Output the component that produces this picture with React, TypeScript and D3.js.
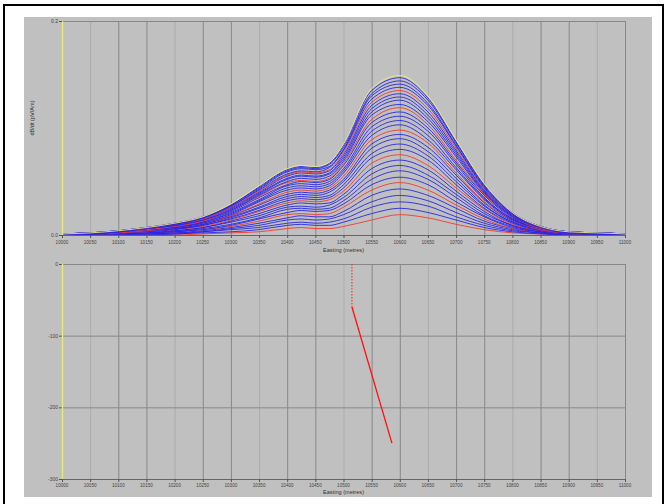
import React from "react";
import * as d3 from "d3";

// Survey stations (Easting, metres)
const stations = [10000, 10050, 10100, 10150, 10200, 10250, 10300, 10350, 10400, 10425, 10450, 10475, 10500, 10550, 10600, 10650, 10700, 10750, 10800, 10850, 10900, 10950, 11000];

// Readings per station, one value per channel (channel 0 = lowest curve), in 0.001 units
const readings = [
  [0,0,0,0,0,0,0,0,0,0,0,0,1,1,1,1,1,1,1,1,1,1,1,1,1,1,1,1,1,1,1],
  [0,0,0,0,0,0,1,1,1,1,1,1,1,1,1,1,1,1,1,1,2,2,2,2,2,2,2,2,2,2,2],
  [0,0,0,1,1,1,1,1,1,2,2,2,2,2,2,2,3,3,3,3,3,3,3,3,3,4,4,4,4,4,4],
  [0,0,1,1,1,2,2,2,2,3,3,3,4,4,4,4,5,5,5,5,5,6,6,6,6,6,6,7,7,7,7],
  [0,1,1,2,2,3,3,3,4,4,5,5,6,6,6,7,7,7,8,8,8,9,9,9,10,10,10,10,11,11,11],
  [1,2,3,3,4,5,5,6,7,7,8,9,9,10,10,11,11,12,12,13,13,14,14,15,15,15,16,16,16,17,17],
  [2,3,5,6,7,8,9,10,12,13,14,15,16,17,18,18,19,20,21,22,23,23,24,25,26,26,27,27,28,28,29],
  [3,5,7,9,11,13,15,16,18,20,22,23,25,26,28,29,31,32,33,35,36,37,38,39,40,41,42,43,44,45,46],
  [6,9,11,14,16,19,21,24,26,28,30,32,34,36,38,40,42,44,46,47,49,50,52,53,55,56,57,59,60,61,62],
  [7,10,12,15,18,20,23,25,27,30,32,34,36,38,40,42,44,46,48,50,51,53,55,56,58,59,60,62,63,64,65],
  [6,9,11,14,17,19,22,24,26,29,31,33,35,37,39,41,43,45,47,49,50,52,54,55,57,58,59,61,62,63,64],
  [6,9,12,15,17,20,23,25,28,30,33,35,37,40,42,44,46,48,50,52,53,55,57,58,60,61,63,64,66,67,68],
  [8,12,15,19,22,26,29,32,35,38,41,44,47,50,52,55,58,60,62,65,67,69,71,73,75,77,79,80,82,84,85],
  [14,20,26,31,37,42,47,52,57,62,67,72,76,81,85,89,93,97,101,105,108,112,115,118,121,124,127,130,132,135,137],
  [19,25,31,37,43,49,54,60,65,70,75,80,85,90,94,98,103,107,111,115,119,122,126,129,132,135,138,141,144,147,149],
  [16,21,27,32,37,42,47,52,56,61,65,70,74,78,82,86,89,93,97,100,103,106,109,112,115,118,121,123,126,128,130],
  [10,14,17,21,25,28,31,35,38,41,44,47,50,53,56,58,61,63,66,68,70,73,75,77,79,81,83,84,86,87,89],
  [5,7,9,11,13,15,17,18,20,22,24,25,27,28,30,31,33,34,35,37,38,39,40,41,42,43,44,45,46,47,48],
  [2,3,4,5,6,6,7,8,9,9,10,11,12,12,13,14,14,15,15,16,17,17,18,18,19,19,19,20,20,21,21],
  [1,1,2,2,2,3,3,3,3,4,4,4,5,5,5,5,6,6,6,6,6,7,7,7,7,7,7,8,8,8,8],
  [0,0,0,0,1,1,1,1,1,1,1,1,2,2,2,2,2,2,2,2,2,2,2,3,3,3,3,3,3,3,3],
  [0,0,0,0,0,0,1,1,1,1,1,1,1,1,1,1,1,1,1,1,2,2,2,2,2,2,2,2,2,2,2],
  [0,0,0,0,0,0,0,0,0,0,0,0,1,1,1,1,1,1,1,1,1,1,1,1,1,1,1,1,1,1,1],
];

const eastingTicks = [10000, 10050, 10100, 10150, 10200, 10250, 10300, 10350, 10400, 10450, 10500, 10550, 10600, 10650, 10700, 10750, 10800, 10850, 10900, 10950, 11000];
const responseTicks = [0, 0.2];
const depthTicks = [0, -100, -200, -300];

// Plate model trace (bottom section)
const plateProjection = [
  { easting: 10515, depth: 0 },
  { easting: 10515, depth: -60 },
];
const plateBody = [
  { easting: 10515, depth: -60 },
  { easting: 10586, depth: -250 },
];

const FONT = "'Liberation Sans', Arial, sans-serif";

export default function App() {
  const W = 667;
  const H = 504;
  const x = d3.scaleLinear().domain([10000, 11000]).range([62, 625]);
  const yTop = d3.scaleLinear().domain([0, 0.2]).range([235, 21]);
  const yBot = d3.scaleLinear().domain([0, -300]).range([264, 479]);

  const nChannels = readings[0].length;
  const series = d3.range(nChannels).map((k) =>
    stations.map((e, j) => ({ e, v: readings[j][k] / 1000 }))
  );
  const curve = d3
    .line<{ e: number; v: number }>()
    .x((d) => x(d.e))
    .y((d) => yTop(d.v))
    .curve(d3.curveMonotoneX);
  const plateLine = d3
    .line<{ easting: number; depth: number }>()
    .x((d) => x(d.easting))
    .y((d) => yBot(d.depth));

  const colorFor = (k: number) =>
    k === nChannels - 1 ? "#eeee70" : k % 5 === 0 ? "#f03a30" : "#2626e6";

  const gridColor = (i: number) => (i % 3 === 1 ? "#acacac" : "#888888");

  return (
    <svg
      width={W}
      height={H}
      style={{ position: "absolute", left: 0, top: 0, background: "#ffffff" }}
      fontFamily={FONT}
    >
      <rect x={0} y={0} width={W} height={H} fill="#ffffff" />
      <rect x={4} y={5} width={659} height={505} fill="none" stroke="#000" strokeWidth={2} />
      <rect x={24} y={17} width={628} height={480} fill="#c0c0c0" />

      {/* ---------- TOP PANEL ---------- */}
      {eastingTicks.map((t, i) =>
        i === 0 ? null : (
          <line key={"tg" + t} x1={x(t) + 0.5} x2={x(t) + 0.5} y1={yTop(0.2)} y2={yTop(0)} stroke={gridColor(i)} strokeWidth={1} />
        )
      )}
      <line x1={x(10000)} x2={x(11000)} y1={yTop(0.2) + 0.5} y2={yTop(0.2) + 0.5} stroke="#888" />
      <g>
        {series.map((s, k) => (
          <path key={"c" + k} d={curve(s) || ""} fill="none" stroke={colorFor(k)} strokeWidth={0.9} />
        ))}
      </g>
      <line x1={x(10000)} x2={x(11000)} y1={yTop(0) + 0.5} y2={yTop(0) + 0.5} stroke="#666" />
      <line x1={x(10000) + 0.5} x2={x(10000) + 0.5} y1={yTop(0.2)} y2={yTop(0)} stroke="#e8e878" strokeWidth={1.4} />
      {responseTicks.map((t) => (
        <g key={"ry" + t}>
          <line x1={x(10000) - 3} x2={x(10000)} y1={yTop(t) + 0.5} y2={yTop(t) + 0.5} stroke="#555" />
          <text x={x(10000) - 4} y={yTop(t) + 2} fontSize={5} textAnchor="end" fill="#444">
            {t.toFixed(1)}
          </text>
        </g>
      ))}
      {eastingTicks.map((t) => (
        <g key={"tx" + t}>
          <line x1={x(t) + 0.5} x2={x(t) + 0.5} y1={yTop(0)} y2={yTop(0) + 3} stroke="#555" />
          <text x={x(t)} y={yTop(0) + 9} fontSize={4.6} textAnchor="middle" fill="#444">
            {t}
          </text>
        </g>
      ))}
      <text x={(x(10000) + x(11000)) / 2} y={yTop(0) + 17} fontSize={5.6} textAnchor="middle" fill="#333">
        Easting (metres)
      </text>
      <text
        transform={`translate(34, 118) rotate(-90)`}
        fontSize={5.6}
        textAnchor="middle"
        fill="#333"
      >
        dB/dt (pV/Am)
      </text>

      {/* ---------- BOTTOM PANEL ---------- */}
      {eastingTicks.map((t, i) =>
        i === 0 ? null : (
          <line key={"bg" + t} x1={x(t) + 0.5} x2={x(t) + 0.5} y1={yBot(0)} y2={yBot(-300)} stroke={gridColor(i)} strokeWidth={1} />
        )
      )}
      {depthTicks.map((t) => (
        <g key={"dy" + t}>
          <line x1={x(10000)} x2={x(11000)} y1={yBot(t) + 0.5} y2={yBot(t) + 0.5} stroke={t === -300 ? "#666" : "#888"} />
          <line x1={x(10000) - 3} x2={x(10000)} y1={yBot(t) + 0.5} y2={yBot(t) + 0.5} stroke="#555" />
          <text x={x(10000) - 4} y={yBot(t) + 2} fontSize={5} textAnchor="end" fill="#444">
            {t}
          </text>
        </g>
      ))}
      <line x1={x(10000) + 0.5} x2={x(10000) + 0.5} y1={yBot(0)} y2={yBot(-300)} stroke="#e8e878" strokeWidth={1.4} />
      <path d={plateLine(plateProjection) || ""} fill="none" stroke="#ff2020" strokeWidth={1} strokeDasharray="1.5,1.5" />
      <path d={plateLine(plateBody) || ""} fill="none" stroke="#ff1010" strokeWidth={1.3} />
      {eastingTicks.map((t) => (
        <g key={"bx" + t}>
          <line x1={x(t) + 0.5} x2={x(t) + 0.5} y1={yBot(-300)} y2={yBot(-300) + 3} stroke="#555" />
          <text x={x(t)} y={yBot(-300) + 8} fontSize={4.6} textAnchor="middle" fill="#444">
            {t}
          </text>
        </g>
      ))}
      <text x={(x(10000) + x(11000)) / 2} y={yBot(-300) + 15} fontSize={5.6} textAnchor="middle" fill="#333">
        Easting (metres)
      </text>
    </svg>
  );
}
